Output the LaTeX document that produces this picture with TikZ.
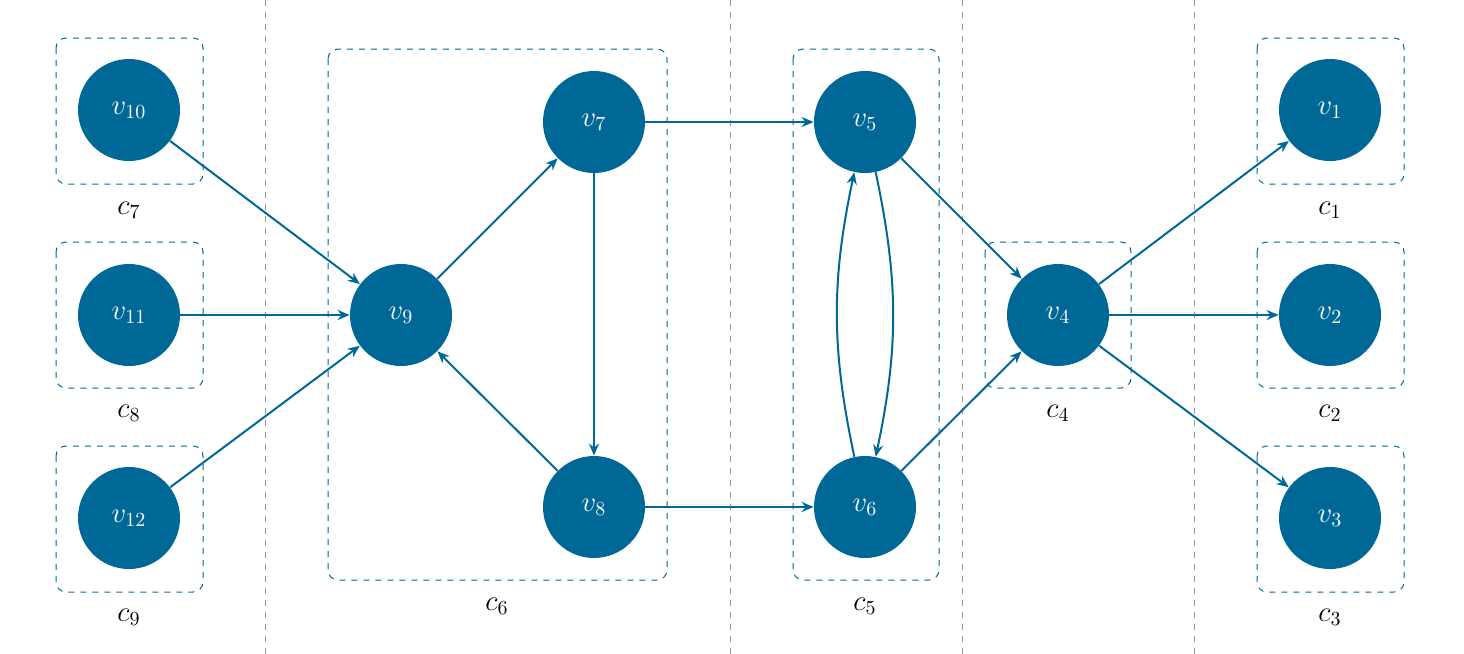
\documentclass[tikz,border=0pt]{standalone}
\usetikzlibrary{arrows.meta}
\definecolor{blu}{RGB}{0,104,150}
\begin{document}
\begin{tikzpicture}[x=0.5pt,y=-0.5pt,
  v/.style={circle,fill=blu,text=white,minimum size=51pt,inner sep=0pt,font=\Large},
  box/.style={draw=blu,dashed,rounded corners=5pt,line width=0.5pt},
  lab/.style={font=\Large},
  e/.style={draw=blu,line width=1pt,-{Stealth[length=6pt,width=5pt]}},
  sep/.style={draw=gray!80,dashed,line width=0.5pt}]
\useasboundingbox (0,0) rectangle (1464,654);
\foreach \x/\n in {265/a,730/b,962/c,1194/d}{\draw[sep] (\x,0) coordinate (t\n) -- (\x,654) coordinate (b\n);}
\draw[box] (56,38) rectangle (203,184);
\draw[box] (56,242) rectangle (203,388);
\draw[box] (56,446) rectangle (203,592);
\draw[box] (328,49) rectangle (667,580);
\draw[box] (793,49) rectangle (939,580);
\draw[box] (985,242) rectangle (1131,388);
\draw[box] (1257,38) rectangle (1404,184);
\draw[box] (1257,242) rectangle (1404,388);
\draw[box] (1257,446) rectangle (1404,592);
\node[lab] (c7) at (129,210) {$c_7$};
\node[lab] (c8) at (129,413) {$c_8$};
\node[lab] (c9) at (129,617) {$c_9$};
\node[lab] (c6) at (497,606) {$c_6$};
\node[lab] (c5) at (865,606) {$c_5$};
\node[lab] (c4) at (1058,413) {$c_4$};
\node[lab] (c1) at (1330,210) {$c_1$};
\node[lab] (c2) at (1330,413) {$c_2$};
\node[lab] (c3) at (1330,617) {$c_3$};
\node[v] (v10) at (129,110) {$v_{10}$};
\node[v] (v11) at (129,315) {$v_{11}$};
\node[v] (v12) at (129,518) {$v_{12}$};
\node[v] (v9) at (401,315) {$v_{9}$};
\node[v] (v7) at (594,122) {$v_{7}$};
\node[v] (v8) at (594,507) {$v_{8}$};
\node[v] (v5) at (865,122) {$v_{5}$};
\node[v] (v6) at (865,507) {$v_{6}$};
\node[v] (v4) at (1058,315) {$v_{4}$};
\node[v] (v1) at (1330,110) {$v_{1}$};
\node[v] (v2) at (1330,315) {$v_{2}$};
\node[v] (v3) at (1330,518) {$v_{3}$};
\draw[e] (v10) -- (v9);
\draw[e] (v11) -- (v9);
\draw[e] (v12) -- (v9);
\draw[e] (v9) -- (v7);
\draw[e] (v7) -- (v8);
\draw[e] (v8) -- (v9);
\draw[e] (v7) -- (v5);
\draw[e] (v8) -- (v6);
\draw[e] (v5) to[bend left=12] (v6);
\draw[e] (v6) to[bend left=12] (v5);
\draw[e] (v5) -- (v4);
\draw[e] (v6) -- (v4);
\draw[e] (v4) -- (v1);
\draw[e] (v4) -- (v2);
\draw[e] (v4) -- (v3);
\end{tikzpicture}
\end{document}
